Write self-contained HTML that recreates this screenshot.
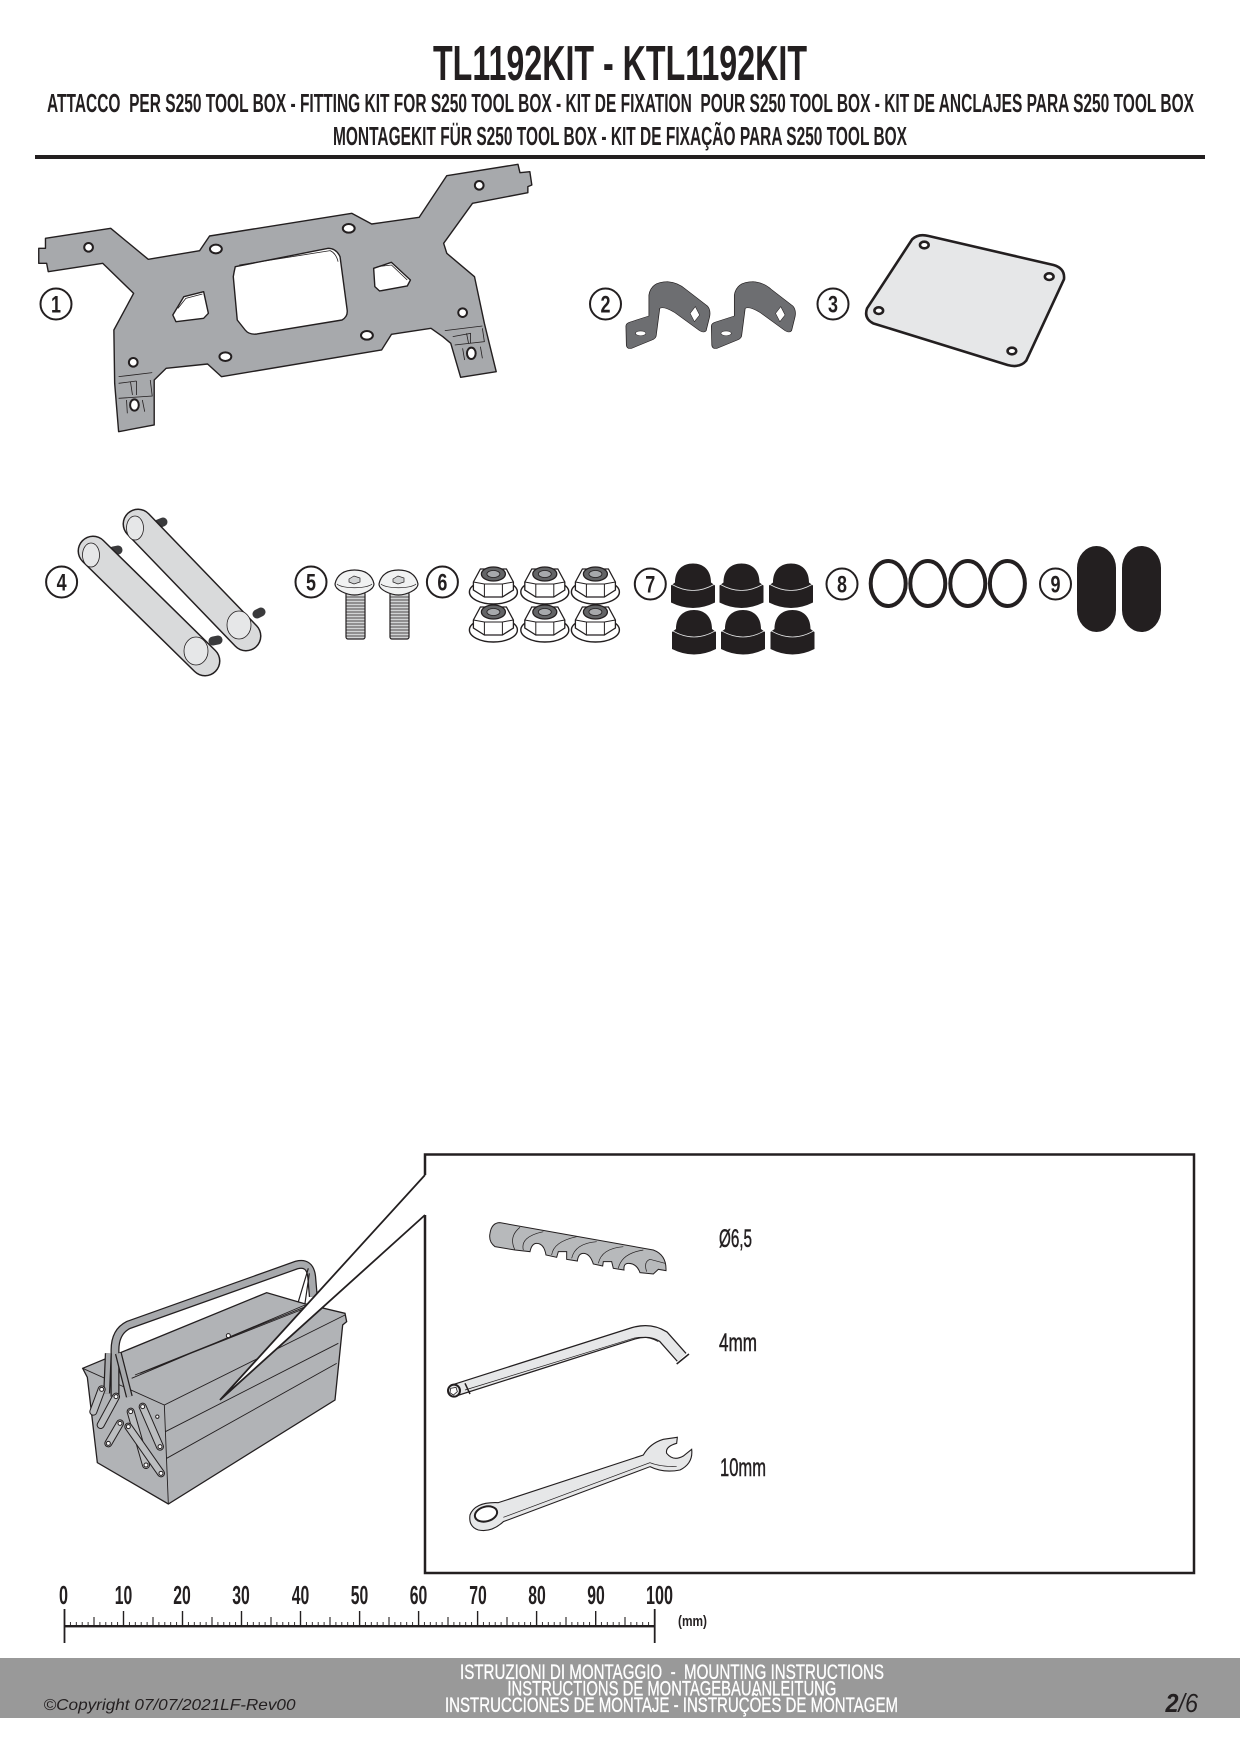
<!DOCTYPE html>
<html>
<head>
<meta charset="utf-8">
<style>
html,body{margin:0;padding:0;background:#fff;width:1240px;height:1754px;overflow:hidden}
svg{display:block}
.n *{vector-effect:non-scaling-stroke}
text{font-family:"Liberation Sans Narrow","Liberation Sans",sans-serif;fill:#231f20;white-space:pre}
.b{font-weight:bold}
.bt{font-weight:bold;font-size:24px;text-anchor:middle}
.rn{font-weight:bold;font-size:26px;text-anchor:middle}
.ft{font-size:21px}
</style>
</head>
<body>
<svg width="1240" height="1754" viewBox="0 0 1240 1754" xmlns="http://www.w3.org/2000/svg">
<defs>
<g id="nut">
  <ellipse cx="0" cy="7" rx="24" ry="12" fill="#fff" stroke="#231f20" stroke-width="1.400"/>
  <path d="M-20,-3 L-13,-16 L13,-16 L20,-3 L20,5 L9,12 L-9,12 L-20,5Z" fill="#fff" stroke="#231f20" stroke-width="1.300"/>
  <path d="M-9,12 L-9,-1 L9,-1 L9,12 M-20,-3 L-9,-1 M20,-3 L9,-1" fill="none" stroke="#231f20" stroke-width="1"/>
  <ellipse cx="0" cy="-11" rx="12" ry="7" fill="#636466" stroke="#231f20" stroke-width="1.300"/>
  <ellipse cx="0" cy="-11" rx="6.500" ry="3.500" fill="#a7a9ac" stroke="#231f20" stroke-width=".8"/>
</g>
<g id="cap">
  <path d="M-18,19 C-18,6 -10,0 0,0 C10,0 18,6 18,19 L22,22 L22,39 Q0,50 -22,39 L-22,22Z" fill="#231f20"/>
  <path d="M-21,21 Q0,33 21,21" fill="none" stroke="#e6e7e8" stroke-width=".8"/>
</g>
<g id="clip">
  <path d="M152,978 Q152,970 162,966 L205,948 L205,885 Q210,845 248,845 Q272,847 290,868 L340,918 Q348,930 345,950 L337,992 Q332,1000 322,992 L265,938 Q240,918 230,925 L222,1005 Q222,1015 212,1020 L165,1045 Q154,1048 153,1035Z" fill="#6d6e71" stroke="#231f20" stroke-width="1.700"/>
  <path d="M300,940 L312,920 L322,945 L310,965Z" fill="#fff" stroke="#231f20" stroke-width="1.300"/>
  <ellipse cx="186" cy="1000" rx="12" ry="7" fill="#fff" stroke="#231f20" stroke-width="1.300"/>
</g>
</defs>

<!-- Header -->
<text class="b" x="433" y="80" font-size="49" textLength="374" lengthAdjust="spacingAndGlyphs">TL1192KIT - KTL1192KIT</text>
<text class="b" x="47" y="112" font-size="26" textLength="1147" lengthAdjust="spacingAndGlyphs">ATTACCO  PER S250 TOOL BOX - FITTING KIT FOR S250 TOOL BOX - KIT DE FIXATION  POUR S250 TOOL BOX - KIT DE ANCLAJES PARA S250 TOOL BOX</text>
<text class="b" x="333" y="145" font-size="26" textLength="574" lengthAdjust="spacingAndGlyphs">MONTAGEKIT FÜR S250 TOOL BOX - KIT DE FIXAÇÃO PARA S250 TOOL BOX</text>
<rect x="35" y="155" width="1170" height="4" fill="#231f20"/>

<!-- Item 1 plate -->
<g class="n" transform="scale(0.3954,0.33333)">
  <path d="M115,715 L280,685 L375,778 L505,752 L530,708 L890,640 L940,672 L1060,652 L1130,527 L1310,493 L1315,518 L1340,515 L1345,555 L1335,560 L1335,578 L1195,610 L1122,730 L1130,760 L1200,830 L1225,970 L1255,1115 L1165,1132 L1140,1030 L1120,1010 L1090,985 L990,1003 L965,1050 L560,1130 L525,1092 L420,1105 L390,1140 L390,1275 L300,1295 L290,1150 L288,990 L338,880 L260,790 L122,815 L118,790 L98,790 L98,745 L115,745Z
  M595,800 Q592,815 590,830 L600,960 L620,990 Q630,1005 650,1002 L865,960 Q880,950 878,930 L860,770 Q850,745 830,745Z
  M515,875 L465,890 L437,945 L445,965 L515,955 L527,940Z
  M945,805 L948,860 L960,873 L1030,858 L1038,840 L990,787Z" fill="#a7a9ac" fill-rule="evenodd" stroke="#231f20" stroke-width="1.400" stroke-linejoin="round"/>
  <path d="M605,795 L835,752 Q850,760 855,785 M450,925 L470,895 L512,882 M955,800 L990,795 L1030,840" fill="none" stroke="#231f20" stroke-width=".8"/>
  <path d="M300,1130 L385,1118 M300,1150 L345,1143 M345,1143 L345,1185 M330,1145 L335,1185 M380,1140 L385,1188 L300,1195 M320,1200 L322,1240 M360,1200 L366,1235 M1125,992 L1220,978 M1145,1010 L1190,1000 L1190,1030 M1180,1000 L1185,1030 M1220,985 L1225,1025 L1150,1035 M1170,1045 L1175,1080 M1215,1040 L1220,1075" fill="none" stroke="#231f20" stroke-width=".8"/>
  <g fill="#fff" stroke="#231f20" stroke-width="2">
    <ellipse cx="224" cy="742" rx="11" ry="13"/><ellipse cx="546" cy="747" rx="15" ry="13"/>
    <ellipse cx="882" cy="685" rx="15" ry="13"/><ellipse cx="1212" cy="556" rx="11" ry="13"/>
    <ellipse cx="337" cy="1087" rx="11" ry="13"/><ellipse cx="570" cy="1070" rx="15" ry="13"/>
    <ellipse cx="928" cy="1006" rx="15" ry="13"/><ellipse cx="1170" cy="938" rx="11" ry="13"/>
    <ellipse cx="340" cy="1215" rx="11" ry="17"/><ellipse cx="1192" cy="1060" rx="11" ry="17"/>
  </g>
</g>

<!-- Items 2, 3 -->
<g class="n" transform="translate(560,0) scale(0.4337,0.33333)">
  <use href="#clip"/>
  <use href="#clip" x="197" y="0"/>
  <path d="M812,718 Q826,700 850,708 L1138,795 Q1165,805 1162,838 L1075,1082 Q1060,1105 1032,1095 L722,970 Q700,955 708,925Z" fill="#e6e7e8" stroke="#231f20" stroke-width="2.600" stroke-linejoin="round"/>
  <g fill="#fff" stroke="#231f20" stroke-width="2.600">
    <ellipse cx="840" cy="735" rx="10" ry="10"/><ellipse cx="1128" cy="830" rx="10" ry="10"/>
    <ellipse cx="1042" cy="1053" rx="10" ry="10"/><ellipse cx="735" cy="932" rx="10" ry="10"/>
  </g>
</g>

<!-- Item 4 bars -->
<g stroke-linecap="round">
  <path d="M158,524 L163,522" stroke="#3a3a3c" stroke-width="9"/>
  <path d="M257,614 L261,612" stroke="#3a3a3c" stroke-width="9"/>
  <path d="M113,551 L118,550" stroke="#3a3a3c" stroke-width="9"/>
  <path d="M213,641 L218,640" stroke="#3a3a3c" stroke-width="9"/>
  <line x1="138" y1="524" x2="246" y2="636" stroke="#231f20" stroke-width="31"/>
  <line x1="138" y1="524" x2="246" y2="636" stroke="#d9dadb" stroke-width="28"/>
  <line x1="93" y1="551" x2="205" y2="661" stroke="#231f20" stroke-width="31"/>
  <line x1="93" y1="551" x2="205" y2="661" stroke="#d9dadb" stroke-width="28"/>
</g>
<g fill="#e6e7e8" stroke="#231f20" stroke-width=".8">
  <ellipse cx="135" cy="528" rx="8.500" ry="12"/>
  <ellipse cx="239" cy="625" rx="12" ry="14"/>
  <ellipse cx="91" cy="555" rx="8.500" ry="12"/>
  <ellipse cx="196" cy="651" rx="12" ry="14"/>
</g>

<!-- Item 5 bolts -->
<g stroke="#231f20" stroke-width="1.200">
  <g id="bolt">
    <rect x="346" y="592" width="19" height="47" fill="#d1d3d4" rx="2"/>
    <path d="M346,597h19M346,600h19M346,603h19M346,606h19M346,609h19M346,612h19M346,615h19M346,618h19M346,621h19M346,624h19M346,627h19M346,630h19M346,633h19M346,636h19" stroke-width=".7" fill="none"/>
    <path d="M335,584 C337,574 345,570 354.500,570 C364,570 372,574 374,584 C374,590 362,595 354.500,595 C347,595 335,590 335,584Z" fill="#f1f2f2"/>
    <path d="M337,584 C342,589 367,589 372,584" fill="none" stroke-width=".7"/>
    <path d="M349,579 L354,576 L360,578 L360,582 L354,584 L349,582Z" fill="#d1d3d4" stroke-width=".7"/>
  </g>
  <use href="#bolt" x="44"/>
</g>

<!-- Item 6 nuts -->
<use href="#nut" x="493.400" y="585"/><use href="#nut" x="544.800" y="585"/><use href="#nut" x="595.400" y="585"/>
<use href="#nut" x="493.400" y="623"/><use href="#nut" x="544.800" y="623"/><use href="#nut" x="595.400" y="623"/>

<!-- Item 7 caps -->
<use href="#cap" x="693" y="563.500"/><use href="#cap" x="741.500" y="563.500"/><use href="#cap" x="791" y="563.500"/>
<use href="#cap" x="694" y="610"/><use href="#cap" x="743" y="610"/><use href="#cap" x="792.500" y="610"/>

<!-- Item 8 rings -->
<g fill="none" stroke="#231f20" stroke-width="4">
  <ellipse cx="888.200" cy="583.500" rx="17.500" ry="22.500"/>
  <ellipse cx="927.800" cy="583.500" rx="17.500" ry="22.500"/>
  <ellipse cx="967.800" cy="583.500" rx="17.500" ry="22.500"/>
  <ellipse cx="1007.400" cy="583.500" rx="17.500" ry="22.500"/>
</g>

<!-- Item 9 pills -->
<path d="M1077,568 A19.500,22 0 0 1 1116,568 L1116,610 A19.500,22 0 0 1 1077,610Z" fill="#231f20"/>
<path d="M1122,568 A19.500,22 0 0 1 1161,568 L1161,610 A19.500,22 0 0 1 1122,610Z" fill="#231f20"/>

<!-- Badges -->
<g fill="#fff" stroke="#231f20" stroke-width="2">
  <circle cx="56" cy="304" r="15.500"/><circle cx="605.500" cy="304" r="15.500"/><circle cx="833" cy="304" r="15.500"/>
  <circle cx="61.600" cy="582" r="15.500"/><circle cx="311" cy="582" r="15.500"/><circle cx="442.400" cy="582" r="15.500"/>
  <circle cx="650.300" cy="584" r="15.500"/><circle cx="842" cy="584" r="15.500"/><circle cx="1055.500" cy="584" r="15.500"/>
</g>
<text class="bt" x="56" y="312.500" textLength="10" lengthAdjust="spacingAndGlyphs">1</text><text class="bt" x="605.500" y="312.500" textLength="10" lengthAdjust="spacingAndGlyphs">2</text><text class="bt" x="833" y="312.500" textLength="10" lengthAdjust="spacingAndGlyphs">3</text>
<text class="bt" x="61.600" y="590.500" textLength="10" lengthAdjust="spacingAndGlyphs">4</text><text class="bt" x="311" y="590.500" textLength="10" lengthAdjust="spacingAndGlyphs">5</text><text class="bt" x="442.400" y="590.500" textLength="10" lengthAdjust="spacingAndGlyphs">6</text>
<text class="bt" x="650.300" y="592.500" textLength="10" lengthAdjust="spacingAndGlyphs">7</text><text class="bt" x="842" y="592.500" textLength="10" lengthAdjust="spacingAndGlyphs">8</text><text class="bt" x="1055.500" y="592.500" textLength="10" lengthAdjust="spacingAndGlyphs">9</text>

<!-- Toolbox -->
<g class="n" transform="translate(60,1140) scale(0.33333)">
  <path d="M68,685 L140,655 L620,458 L730,490 L855,520 L860,545 L848,555 L825,780 L325,1092 L112,968 L82,712Z" fill="#b1b3b6" stroke="#231f20" stroke-width="1.300"/>
  <path d="M68,685 L313,795 L855,525 M313,795 L325,1092 M316,875 L835,610 M320,955 L830,670 M215,715 L735,495 M225,705 L732,502 M240,700 L730,507" fill="none" stroke="#231f20" stroke-width=".9"/>
  <path d="M165,770 L165,630 Q165,575 205,555 L710,375 Q750,365 755,410 L760,470" fill="none" stroke="#231f20" stroke-width="9"/>
  <path d="M165,770 L165,630 Q165,575 205,555 L710,375 Q750,365 755,410 L760,470" fill="none" stroke="#a7a9ac" stroke-width="6.500"/>
  <path d="M745,385 L715,485 M748,400 L735,490" fill="none" stroke="#231f20" stroke-width="1.200"/>
  <path d="M175,640 L208,770 M145,640 L140,760" fill="none" stroke="#231f20" stroke-width="7"/>
  <path d="M175,640 L208,770 M145,640 L140,760" fill="none" stroke="#a7a9ac" stroke-width="4.500"/>
  <g fill="none" stroke-linecap="round">
    <path d="M125,748 L100,815" stroke="#231f20" stroke-width="8"/><path d="M125,748 L100,815" stroke="#bcbec0" stroke-width="6"/>
    <path d="M168,770 L122,855" stroke="#231f20" stroke-width="8"/><path d="M168,770 L122,855" stroke="#bcbec0" stroke-width="6"/>
    <path d="M180,850 L145,910" stroke="#231f20" stroke-width="8"/><path d="M180,850 L145,910" stroke="#bcbec0" stroke-width="6"/>
    <path d="M248,800 L300,920" stroke="#231f20" stroke-width="8"/><path d="M248,800 L300,920" stroke="#bcbec0" stroke-width="6"/>
    <path d="M212,815 L258,975" stroke="#231f20" stroke-width="8"/><path d="M212,815 L258,975" stroke="#bcbec0" stroke-width="6"/>
    <path d="M205,860 L303,1000" stroke="#231f20" stroke-width="8"/><path d="M205,860 L303,1000" stroke="#bcbec0" stroke-width="6"/>
  </g>
  <g fill="#fff" stroke="#231f20" stroke-width="1">
    <circle cx="125" cy="748" r="6"/><circle cx="168" cy="770" r="6"/><circle cx="180" cy="850" r="6"/><circle cx="145" cy="910" r="6"/>
    <circle cx="248" cy="800" r="6"/><circle cx="300" cy="920" r="6"/><circle cx="212" cy="815" r="6"/><circle cx="258" cy="975" r="6"/>
    <circle cx="303" cy="1000" r="6"/><circle cx="205" cy="860" r="6"/><circle cx="505" cy="587" r="6"/><circle cx="292" cy="830" r="5"/>
  </g>
</g>

<!-- Callout frame -->
<path d="M425,1175 L220,1400 L425,1215Z" fill="#fff"/>
<path d="M425,1175 L220,1400 L425,1215" fill="none" stroke="#231f20" stroke-width="1.800" stroke-linejoin="miter"/>
<path d="M425,1175 L425,1154.500 L1194,1154.500 L1194,1573 L425,1573 L425,1215" fill="none" stroke="#231f20" stroke-width="2.500"/>

<!-- Tools -->
<g class="n" transform="translate(420,1200) scale(0.33333)">
  <path d="M210,100 Q215,68 240,68 L420,100 L700,150 Q740,165 738,212 L715,208 L700,222 L660,218 Q650,190 625,190 Q610,190 612,210 L580,205 L575,185 L550,185 L548,198 L520,192 Q510,160 490,160 Q475,160 472,183 L440,178 L440,155 L415,155 L410,172 L378,165 Q372,130 350,130 Q335,130 330,155 L285,150 L225,140 Q205,125 210,100Z" fill="#b7b9bb" stroke="#231f20" stroke-width="1"/>
  <path d="M285,150 Q265,110 300,82 M310,150 Q300,110 370,95 M395,165 Q400,125 470,110 M455,175 Q465,130 530,125 M535,190 Q545,145 610,140 M595,205 Q605,160 670,150 M680,215 Q670,185 690,178 L735,190" fill="none" stroke="#231f20" stroke-width=".7"/>

  <path d="M100,572 L640,400 Q690,385 730,410 L785,472" fill="none" stroke="#231f20" stroke-width="13"/>
  <path d="M100,572 L640,400 Q690,385 730,410 L785,472" fill="none" stroke="#e6e7e8" stroke-width="10.500"/>
  <path d="M135,570 L640,415 Q680,405 715,425" fill="none" stroke="#231f20" stroke-width=".7"/>
  <path d="M135,550 L150,582 M770,492 L807,462" fill="none" stroke="#231f20" stroke-width="1.500"/>
  <circle cx="102" cy="572" r="18" fill="#e6e7e8" stroke="#231f20" stroke-width="2"/>
  <path d="M92,565 L108,562 L112,575 L100,585 L90,578Z" fill="#fff" stroke="#231f20" stroke-width=".8"/>

  <path d="M235,908 L670,765 Q690,730 730,718 L772,712 L770,730 Q735,740 740,760 Q760,785 790,768 L815,748 Q820,790 780,810 Q730,820 690,800 L250,965 Q215,998 175,990 Q145,980 150,945 Q165,905 235,908Z" fill="#e6e7e8" stroke="#231f20" stroke-width="1.100"/>
  <path d="M250,952 L690,788 Q720,800 770,800" fill="none" stroke="#231f20" stroke-width=".7"/>
  <ellipse cx="198" cy="942" rx="34" ry="22" fill="#fff" stroke="#231f20" stroke-width="2" transform="rotate(-15 198 942)"/>
</g>
<text x="719" y="1247" font-size="25" textLength="33" lengthAdjust="spacingAndGlyphs" style="stroke:#231f20;stroke-width:.5">Ø6,5</text>
<text x="719" y="1351" font-size="25" textLength="38" lengthAdjust="spacingAndGlyphs" style="stroke:#231f20;stroke-width:.5">4mm</text>
<text x="720" y="1476" font-size="25" textLength="46" lengthAdjust="spacingAndGlyphs" style="stroke:#231f20;stroke-width:.5">10mm</text>

<!-- Ruler -->
<text class="rn" x="63.500" y="1604" textLength="9" lengthAdjust="spacingAndGlyphs">0</text>
<text class="rn" x="123.500" y="1604" textLength="17.500" lengthAdjust="spacingAndGlyphs">10</text>
<text class="rn" x="182" y="1604" textLength="17.500" lengthAdjust="spacingAndGlyphs">20</text>
<text class="rn" x="241" y="1604" textLength="17.500" lengthAdjust="spacingAndGlyphs">30</text>
<text class="rn" x="300.500" y="1604" textLength="17.500" lengthAdjust="spacingAndGlyphs">40</text>
<text class="rn" x="359.500" y="1604" textLength="17.500" lengthAdjust="spacingAndGlyphs">50</text>
<text class="rn" x="418.500" y="1604" textLength="17.500" lengthAdjust="spacingAndGlyphs">60</text>
<text class="rn" x="478" y="1604" textLength="17.500" lengthAdjust="spacingAndGlyphs">70</text>
<text class="rn" x="537" y="1604" textLength="17.500" lengthAdjust="spacingAndGlyphs">80</text>
<text class="rn" x="596" y="1604" textLength="17.500" lengthAdjust="spacingAndGlyphs">90</text>
<text class="rn" x="659.500" y="1604" textLength="27" lengthAdjust="spacingAndGlyphs">100</text>
<text class="b" x="678" y="1626" font-size="15" textLength="29" lengthAdjust="spacingAndGlyphs">(mm)</text>
<rect x="64" y="1625" width="591" height="2.400" fill="#231f20"/>
<path d="M64.500,1609V1643M654.700,1609V1643" stroke="#231f20" stroke-width="1.800" fill="none"/>
<path d="M123.500,1626V1611M182.500,1626V1611M241.500,1626V1611M300.500,1626V1611M359.600,1626V1611M418.600,1626V1611M477.600,1626V1611M536.600,1626V1611M595.700,1626V1611" stroke="#231f20" stroke-width="1.400" fill="none"/>
<path d="M94,1626V1617M153,1626V1617M212,1626V1617M271,1626V1617M330,1626V1617M389,1626V1617M448,1626V1617M507,1626V1617M566,1626V1617M625,1626V1617" stroke="#231f20" stroke-width="1.100" fill="none"/>
<path d="M70.400,1626v-4M76.300,1626v-4M82.200,1626v-4M88.100,1626v-4M99.900,1626v-4M105.800,1626v-4M111.700,1626v-4M117.600,1626v-4M129.400,1626v-4M135.300,1626v-4M141.200,1626v-4M147.100,1626v-4M158.900,1626v-4M164.800,1626v-4M170.700,1626v-4M176.600,1626v-4M188.400,1626v-4M194.300,1626v-4M200.200,1626v-4M206.100,1626v-4M217.900,1626v-4M223.800,1626v-4M229.700,1626v-4M235.600,1626v-4M247.400,1626v-4M253.300,1626v-4M259.200,1626v-4M265.100,1626v-4M276.900,1626v-4M282.800,1626v-4M288.700,1626v-4M294.600,1626v-4M306.400,1626v-4M312.300,1626v-4M318.200,1626v-4M324.100,1626v-4M335.900,1626v-4M341.800,1626v-4M347.700,1626v-4M353.600,1626v-4M365.400,1626v-4M371.300,1626v-4M377.200,1626v-4M383.100,1626v-4M394.900,1626v-4M400.800,1626v-4M406.700,1626v-4M412.600,1626v-4M424.400,1626v-4M430.300,1626v-4M436.200,1626v-4M442.100,1626v-4M453.900,1626v-4M459.800,1626v-4M465.700,1626v-4M471.600,1626v-4M483.400,1626v-4M489.300,1626v-4M495.200,1626v-4M501.100,1626v-4M512.900,1626v-4M518.800,1626v-4M524.700,1626v-4M530.600,1626v-4M542.400,1626v-4M548.300,1626v-4M554.200,1626v-4M560.100,1626v-4M571.900,1626v-4M577.800,1626v-4M583.700,1626v-4M589.600,1626v-4M601.400,1626v-4M607.300,1626v-4M613.200,1626v-4M619.100,1626v-4M630.900,1626v-4M636.800,1626v-4M642.700,1626v-4M648.600,1626v-4" stroke="#231f20" stroke-width=".9" fill="none"/>

<!-- Footer -->
<rect x="0" y="1658" width="1240" height="60" fill="#999999"/>
<text class="ft" x="460" y="1679" textLength="424" lengthAdjust="spacingAndGlyphs" style="fill:#fff;stroke:#fff;stroke-width:.35">ISTRUZIONI DI MONTAGGIO  -  MOUNTING INSTRUCTIONS</text>
<text class="ft" x="507.400" y="1695.500" textLength="329" lengthAdjust="spacingAndGlyphs" style="fill:#fff;stroke:#fff;stroke-width:.35">INSTRUCTIONS DE MONTAGEBAUANLEITUNG</text>
<text class="ft" x="445" y="1712" textLength="453" lengthAdjust="spacingAndGlyphs" style="fill:#fff;stroke:#fff;stroke-width:.35">INSTRUCCIONES DE MONTAJE - INSTRUÇÕES DE MONTAGEM</text>
<text x="43.500" y="1710" font-size="16" font-style="italic" textLength="252" lengthAdjust="spacingAndGlyphs" style="font-family:'Liberation Sans',sans-serif">©Copyright 07/07/2021LF-Rev00</text>
<text x="1165.500" y="1712" font-size="26" font-style="italic" textLength="32.500" lengthAdjust="spacingAndGlyphs" style="font-family:'Liberation Sans',sans-serif"><tspan font-weight="bold">2</tspan><tspan>/6</tspan></text>
</svg>
</body>
</html>
